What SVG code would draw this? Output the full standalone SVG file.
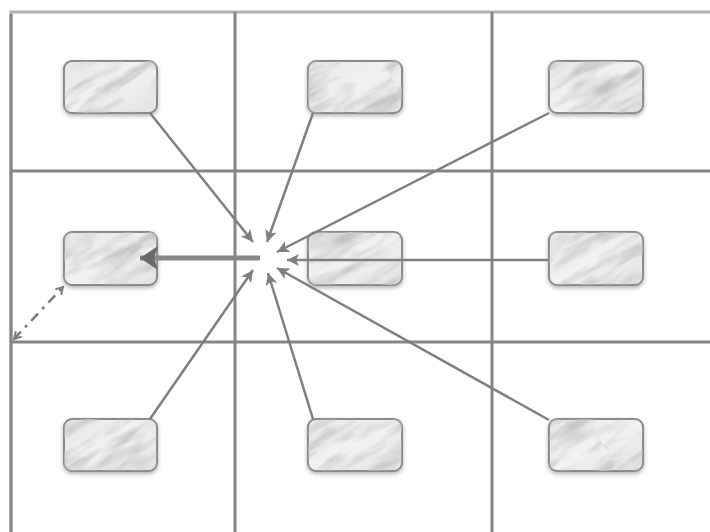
<svg xmlns="http://www.w3.org/2000/svg" width="710" height="532" viewBox="0 0 710 532">
<style>
.grid{stroke:#858585;stroke-width:3;fill:none}
.gridlight{stroke:#b0b0b0;stroke-width:3;fill:none}
.conn{stroke:#7f7f7f;stroke-width:2.5;fill:none}
.box{fill:url(#marble);stroke:#8a8a8a;stroke-width:2}
.tex{fill:url(#veinpat)}
</style>
<defs>
<linearGradient id="marble" x1="0" y1="0" x2="1" y2="1">
<stop offset="0" stop-color="#e6e6e6"/>
<stop offset="0.5" stop-color="#f2f2f2"/>
<stop offset="1" stop-color="#e2e2e2"/>
</linearGradient>
<filter id="veins" x="0" y="0" width="1" height="1">
<feTurbulence type="fractalNoise" baseFrequency="0.02 0.08" numOctaves="3" seed="4" result="n"/>
<feColorMatrix in="n" type="matrix" values="0 0 0 0 0.55  0 0 0 0 0.55  0 0 0 0 0.55  0 0 0 -2.4 1.4" result="c"/>
<feComposite in="c" in2="SourceAlpha" operator="in"/>
</filter>
<pattern id="veinpat" patternUnits="userSpaceOnUse" width="300" height="300" patternTransform="rotate(-30)">
<rect width="300" height="300" fill="#000" filter="url(#veins)"/>
</pattern>
<filter id="shadow" x="-20%" y="-20%" width="140%" height="150%">
<feGaussianBlur in="SourceAlpha" stdDeviation="2"/>
<feOffset dy="2" result="b"/>
<feFlood flood-color="#000" flood-opacity="0.3"/>
<feComposite in2="b" operator="in"/>
<feMerge><feMergeNode/><feMergeNode in="SourceGraphic"/></feMerge>
</filter>
<marker id="ah" markerUnits="userSpaceOnUse" markerWidth="14" markerHeight="12" refX="12" refY="6" orient="auto">
<path d="M0,0 L12,6 L0,12 L3,6 z" fill="#7f7f7f"/>
</marker>
<marker id="big" markerUnits="userSpaceOnUse" markerWidth="20" markerHeight="24" refX="18" refY="12" orient="auto">
<path d="M0,0 L18,12 L0,24 L4,12 z" fill="#6a6a6a"/>
</marker>
<marker id="open" markerUnits="userSpaceOnUse" markerWidth="10" markerHeight="10" refX="8" refY="5" orient="auto">
<path d="M1,1 L8,5 L1,9" fill="none" stroke="#7a7a7a" stroke-width="2"/>
</marker>
<marker id="openS" markerUnits="userSpaceOnUse" markerWidth="10" markerHeight="10" refX="2" refY="5" orient="auto">
<path d="M9,1 L2,5 L9,9" fill="none" stroke="#7a7a7a" stroke-width="2"/>
</marker>
</defs>
<rect width="710" height="532" fill="#ffffff"/>
<g id="grid">
<path class="gridlight" d="M11,532 V12 H710"/>
<path class="grid" d="M11,532 V14"/>
<path class="grid" d="M235,12 V532 M492,12 V532 M11,171 H710 M11,342 H710"/>
</g>
<g id="node-tl" filter="url(#shadow)"><rect class="box" x="64" y="61" width="93" height="52" rx="8"/><rect class="tex" x="64" y="61" width="93" height="52" rx="8"/></g>
<g id="node-tm" filter="url(#shadow)"><rect class="box" x="308" y="61" width="94" height="52" rx="8"/><rect class="tex" x="308" y="61" width="94" height="52" rx="8"/></g>
<g id="node-tr" filter="url(#shadow)"><rect class="box" x="549" y="61" width="94" height="52" rx="8"/><rect class="tex" x="549" y="61" width="94" height="52" rx="8"/></g>
<g id="node-ml" filter="url(#shadow)"><rect class="box" x="64" y="232" width="93" height="53" rx="8"/><rect class="tex" x="64" y="232" width="93" height="53" rx="8"/></g>
<g id="node-mm" filter="url(#shadow)"><rect class="box" x="308" y="232" width="94" height="53" rx="8"/><rect class="tex" x="308" y="232" width="94" height="53" rx="8"/></g>
<g id="node-mr" filter="url(#shadow)"><rect class="box" x="549" y="232" width="94" height="53" rx="8"/><rect class="tex" x="549" y="232" width="94" height="53" rx="8"/></g>
<g id="node-bl" filter="url(#shadow)"><rect class="box" x="64" y="419" width="93" height="52" rx="8"/><rect class="tex" x="64" y="419" width="93" height="52" rx="8"/></g>
<g id="node-bm" filter="url(#shadow)"><rect class="box" x="308" y="419" width="94" height="52" rx="8"/><rect class="tex" x="308" y="419" width="94" height="52" rx="8"/></g>
<g id="node-br" filter="url(#shadow)"><rect class="box" x="549" y="419" width="94" height="52" rx="8"/><rect class="tex" x="549" y="419" width="94" height="52" rx="8"/></g>
<g id="connectors">
<line class="conn" x1="150" y1="113" x2="253" y2="242" marker-end="url(#ah)"/>
<line class="conn" x1="313" y1="113" x2="267" y2="242" marker-end="url(#ah)"/>
<line class="conn" x1="549" y1="113" x2="277" y2="252" marker-end="url(#ah)"/>
<line class="conn" x1="549" y1="260" x2="287" y2="260" marker-end="url(#ah)"/>
<line class="conn" x1="549" y1="420" x2="277" y2="268" marker-end="url(#ah)"/>
<line class="conn" x1="313" y1="419" x2="268" y2="273" marker-end="url(#ah)"/>
<line class="conn" x1="150" y1="419" x2="253" y2="270" marker-end="url(#ah)"/>
<line x1="260" y1="258" x2="140" y2="258" stroke="#878787" stroke-width="5" marker-end="url(#big)"/>
<line x1="14" y1="339" x2="63" y2="287" stroke="#7a7a7a" stroke-width="2.5" stroke-dasharray="10,6,3,6" marker-end="url(#open)" marker-start="url(#openS)"/>
</g>
</svg>
